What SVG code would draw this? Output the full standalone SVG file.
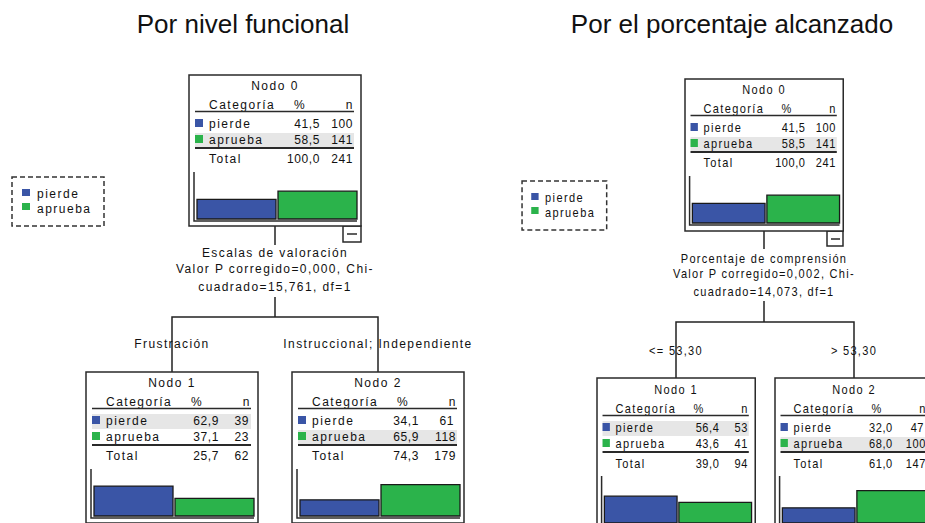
<svg xmlns="http://www.w3.org/2000/svg" width="925" height="523" viewBox="0 0 925 523">
<style>
.bg{fill:#ffffff}
.title{font-family:"Liberation Sans",Arial,sans-serif;font-size:26px;fill:#111;text-anchor:middle}
.t{font-family:"Liberation Sans",Arial,sans-serif;font-size:12px;letter-spacing:1.5px;fill:#111}
.c{text-anchor:middle}
.e{text-anchor:end}
.num{font-family:"Liberation Sans",Arial,sans-serif;font-size:12px;letter-spacing:0.6px;fill:#111;text-anchor:end}
.lbl{font-family:"Liberation Sans",Arial,sans-serif;font-size:12px;letter-spacing:1.4px;fill:#111;text-anchor:middle}
.box{fill:#ffffff;stroke:#2a2a2a;stroke-width:1.5;vector-effect:non-scaling-stroke}
.rule{stroke:#2a2a2a;stroke-width:1.5;vector-effect:non-scaling-stroke}
.rule2{stroke:#2a2a2a;stroke-width:2.2;vector-effect:non-scaling-stroke}
.shade{fill:#e6e6e6}
.blue{fill:#3a55a6}
.green{fill:#2bb34b}
.bar{stroke:#1a1a1a;stroke-width:1.3;vector-effect:non-scaling-stroke}
.axis{fill:none;stroke:#2a2a2a;stroke-width:1.5;vector-effect:non-scaling-stroke}
.conn{fill:none;stroke:#222;stroke-width:1.5;vector-effect:non-scaling-stroke}
.leg{fill:none;stroke:#333;stroke-width:1.5;stroke-dasharray:5 3;vector-effect:non-scaling-stroke}
</style>
<rect class="bg" x="0" y="0" width="925" height="523"/>

<text class="title" x="243" y="33">Por nivel funcional</text>
<text class="title" x="732" y="33">Por el porcentaje alcanzado</text>

<!-- ============ LEFT TREE ============ -->
<g id="legend-left">
<rect class="leg" x="12" y="177" width="92" height="49"/>
<rect class="blue" x="22" y="189" width="8" height="7"/>
<text class="t" x="37" y="198">pierde</text>
<rect class="green" x="22" y="203" width="8" height="7"/>
<text class="t" x="37" y="213">aprueba</text>
</g>

<g id="connectors-left">
<line class="conn" x1="275" y1="226" x2="275" y2="245"/>
<line class="conn" x1="275" y1="297" x2="275" y2="317"/>
<polyline class="conn" points="172,372 172,317 378,317 378,372"/>
<rect class="box" x="343" y="226" width="18" height="16"/>
<line class="rule" x1="347" y1="234" x2="357" y2="234"/>
<text class="lbl" x="275" y="257">Escalas de valoración</text>
<text class="lbl" x="275" y="273">Valor P corregido=0,000, Chi-</text>
<text class="lbl" x="275" y="291">cuadrado=15,761, df=1</text>
<text class="lbl" x="172" y="348">Frustración</text>
<text class="lbl" x="378" y="348">Instruccional; Independiente</text>
</g>

<g id="nodeL0" transform="translate(189,75)">
<rect class="box" x="0" y="0" width="172" height="151"/>
<text class="t c" x="86" y="15">Nodo 0</text>
<text class="t" x="20" y="34">Categoría</text>
<text class="t c" x="111" y="34">%</text>
<text class="t e" x="165" y="34">n</text>
<line class="rule" x1="6" y1="36.5" x2="165" y2="36.5"/>
<rect class="shade" x="6" y="58" width="159" height="14"/>
<rect class="blue" x="6" y="44" width="8" height="8"/>
<text class="t" x="20" y="53">pierde</text>
<text class="num" x="131" y="53">41,5</text>
<text class="num" x="164" y="53">100</text>
<rect class="green" x="6" y="60" width="8" height="8"/>
<text class="t" x="20" y="69">aprueba</text>
<text class="num" x="131" y="69">58,5</text>
<text class="num" x="164" y="69">141</text>
<line class="rule2" x1="6" y1="73" x2="165" y2="73"/>
<text class="t" x="20" y="88">Total</text>
<text class="num" x="131" y="88">100,0</text>
<text class="num" x="164" y="88">241</text>
<rect class="blue bar" x="8" y="124.3" width="79" height="19.7"/>
<rect class="green bar" x="89" y="116.2" width="79" height="27.8"/>
<polyline class="axis" points="5,97 5,146 168,146"/>
</g>

<g id="nodeL1" transform="translate(86,372)">
<rect class="box" x="0" y="0" width="172" height="151"/>
<text class="t c" x="86" y="15">Nodo 1</text>
<text class="t" x="20" y="34">Categoría</text>
<text class="t c" x="111" y="34">%</text>
<text class="t e" x="165" y="34">n</text>
<line class="rule" x1="6" y1="36.5" x2="165" y2="36.5"/>
<rect class="shade" x="6" y="42" width="159" height="15"/>
<rect class="blue" x="6" y="44" width="8" height="8"/>
<text class="t" x="20" y="53">pierde</text>
<text class="num" x="133" y="53">62,9</text>
<text class="num" x="163" y="53">39</text>
<rect class="green" x="6" y="60" width="8" height="8"/>
<text class="t" x="20" y="69">aprueba</text>
<text class="num" x="133" y="69">37,1</text>
<text class="num" x="163" y="69">23</text>
<line class="rule2" x1="6" y1="73" x2="165" y2="73"/>
<text class="t" x="20" y="88">Total</text>
<text class="num" x="133" y="88">25,7</text>
<text class="num" x="163" y="88">62</text>
<rect class="blue bar" x="8" y="114.1" width="79" height="29.9"/>
<rect class="green bar" x="89" y="126.4" width="79" height="17.6"/>
<polyline class="axis" points="5,97 5,146 168,146"/>
</g>

<g id="nodeL2" transform="translate(292,372)">
<rect class="box" x="0" y="0" width="172" height="151"/>
<text class="t c" x="86" y="15">Nodo 2</text>
<text class="t" x="20" y="34">Categoría</text>
<text class="t c" x="111" y="34">%</text>
<text class="t e" x="165" y="34">n</text>
<line class="rule" x1="6" y1="36.5" x2="165" y2="36.5"/>
<rect class="shade" x="6" y="58" width="159" height="14"/>
<rect class="blue" x="6" y="44" width="8" height="8"/>
<text class="t" x="20" y="53">pierde</text>
<text class="num" x="127" y="53">34,1</text>
<text class="num" x="162" y="53">61</text>
<rect class="green" x="6" y="60" width="8" height="8"/>
<text class="t" x="20" y="69">aprueba</text>
<text class="num" x="127" y="69">65,9</text>
<text class="num" x="164" y="69">118</text>
<line class="rule2" x1="6" y1="73" x2="165" y2="73"/>
<text class="t" x="20" y="88">Total</text>
<text class="num" x="127" y="88">74,3</text>
<text class="num" x="164" y="88">179</text>
<rect class="blue bar" x="8" y="127.8" width="79" height="16.2"/>
<rect class="green bar" x="89" y="112.7" width="79" height="31.3"/>
<polyline class="axis" points="5,97 5,146 168,146"/>
</g>

<!-- ============ RIGHT TREE ============ -->
<g id="legend-right" transform="translate(511,4) scale(0.92,1)">
<rect class="leg" x="12" y="177" width="92" height="49"/>
<rect class="blue" x="22" y="189" width="8" height="7"/>
<text class="t" x="37" y="198">pierde</text>
<rect class="green" x="22" y="203" width="8" height="7"/>
<text class="t" x="37" y="213">aprueba</text>
</g>

<g id="connectors-right">
<line class="conn" x1="764" y1="231" x2="764" y2="249"/>
<line class="conn" x1="764" y1="301" x2="764" y2="322"/>
<polyline class="conn" points="676,378 676,322 854,322 854,378"/>
<rect class="box" x="827" y="231" width="16" height="15"/>
<line class="rule" x1="831" y1="239" x2="840" y2="239"/>
<g transform="translate(764,0) scale(0.92,1)">
<text class="lbl" x="0" y="263">Porcentaje de comprensión</text>
<text class="lbl" x="0" y="278">Valor P corregido=0,002, Chi-</text>
<text class="lbl" x="0" y="296">cuadrado=14,073, df=1</text>
</g>
<g transform="translate(676,0) scale(0.92,1)">
<text class="lbl" x="0" y="355">&lt;= 53,30</text>
</g>
<g transform="translate(854,0) scale(0.92,1)">
<text class="lbl" x="0" y="355">&gt; 53,30</text>
</g>
</g>

<g id="nodeR0" transform="translate(685,79) scale(0.92,1)">
<rect class="box" x="0" y="0" width="172" height="152"/>
<text class="t c" x="86" y="15">Nodo 0</text>
<text class="t" x="20" y="34">Categoría</text>
<text class="t c" x="111" y="34">%</text>
<text class="t e" x="165" y="34">n</text>
<line class="rule" x1="6" y1="36.5" x2="165" y2="36.5"/>
<rect class="shade" x="6" y="58" width="159" height="14"/>
<rect class="blue" x="6" y="44" width="8" height="8"/>
<text class="t" x="20" y="53">pierde</text>
<text class="num" x="131" y="53">41,5</text>
<text class="num" x="164" y="53">100</text>
<rect class="green" x="6" y="60" width="8" height="8"/>
<text class="t" x="20" y="69">aprueba</text>
<text class="num" x="131" y="69">58,5</text>
<text class="num" x="164" y="69">141</text>
<line class="rule2" x1="6" y1="73" x2="165" y2="73"/>
<text class="t" x="20" y="88">Total</text>
<text class="num" x="131" y="88">100,0</text>
<text class="num" x="164" y="88">241</text>
<rect class="blue bar" x="8" y="124.3" width="79" height="19.7"/>
<rect class="green bar" x="89" y="116.2" width="79" height="27.8"/>
<polyline class="axis" points="5,97 5,146 168,146"/>
</g>

<g id="nodeR1" transform="translate(597,378) scale(0.92,1)">
<rect class="box" x="0" y="0" width="172" height="151"/>
<text class="t c" x="86" y="16">Nodo 1</text>
<text class="t" x="20" y="35">Categoría</text>
<text class="t c" x="111" y="35">%</text>
<text class="t e" x="165" y="35">n</text>
<line class="rule" x1="6" y1="37.5" x2="165" y2="37.5"/>
<rect class="shade" x="6" y="43" width="159" height="15"/>
<rect class="blue" x="6" y="45" width="8" height="8"/>
<text class="t" x="20" y="54">pierde</text>
<text class="num" x="133" y="54">56,4</text>
<text class="num" x="164" y="54">53</text>
<rect class="green" x="6" y="61" width="8" height="8"/>
<text class="t" x="20" y="70">aprueba</text>
<text class="num" x="133" y="70">43,6</text>
<text class="num" x="164" y="70">41</text>
<line class="rule2" x1="6" y1="74" x2="165" y2="74"/>
<text class="t" x="20" y="90">Total</text>
<text class="num" x="133" y="90">39,0</text>
<text class="num" x="164" y="90">94</text>
<rect class="blue bar" x="8" y="118.2" width="79" height="26.8"/>
<rect class="green bar" x="89" y="124.3" width="79" height="20.7"/>
<polyline class="axis" points="5,98 5,147 168,147"/>
</g>

<g id="nodeR2" transform="translate(775,378) scale(0.92,1)">
<rect class="box" x="0" y="0" width="172" height="151"/>
<text class="t c" x="86" y="16">Nodo 2</text>
<text class="t" x="20" y="35">Categoría</text>
<text class="t c" x="111" y="35">%</text>
<text class="t e" x="165" y="35">n</text>
<line class="rule" x1="6" y1="37.5" x2="165" y2="37.5"/>
<rect class="shade" x="6" y="59" width="159" height="14"/>
<rect class="blue" x="6" y="45" width="8" height="8"/>
<text class="t" x="20" y="54">pierde</text>
<text class="num" x="128" y="54">32,0</text>
<text class="num" x="162" y="54">47</text>
<rect class="green" x="6" y="61" width="8" height="8"/>
<text class="t" x="20" y="70">aprueba</text>
<text class="num" x="128" y="70">68,0</text>
<text class="num" x="164" y="70">100</text>
<line class="rule2" x1="6" y1="74" x2="165" y2="74"/>
<text class="t" x="20" y="90">Total</text>
<text class="num" x="128" y="90">61,0</text>
<text class="num" x="164" y="90">147</text>
<rect class="blue bar" x="8" y="129.8" width="79" height="15.2"/>
<rect class="green bar" x="89" y="112.7" width="79" height="32.3"/>
<polyline class="axis" points="5,98 5,147 168,147"/>
</g>
</svg>
